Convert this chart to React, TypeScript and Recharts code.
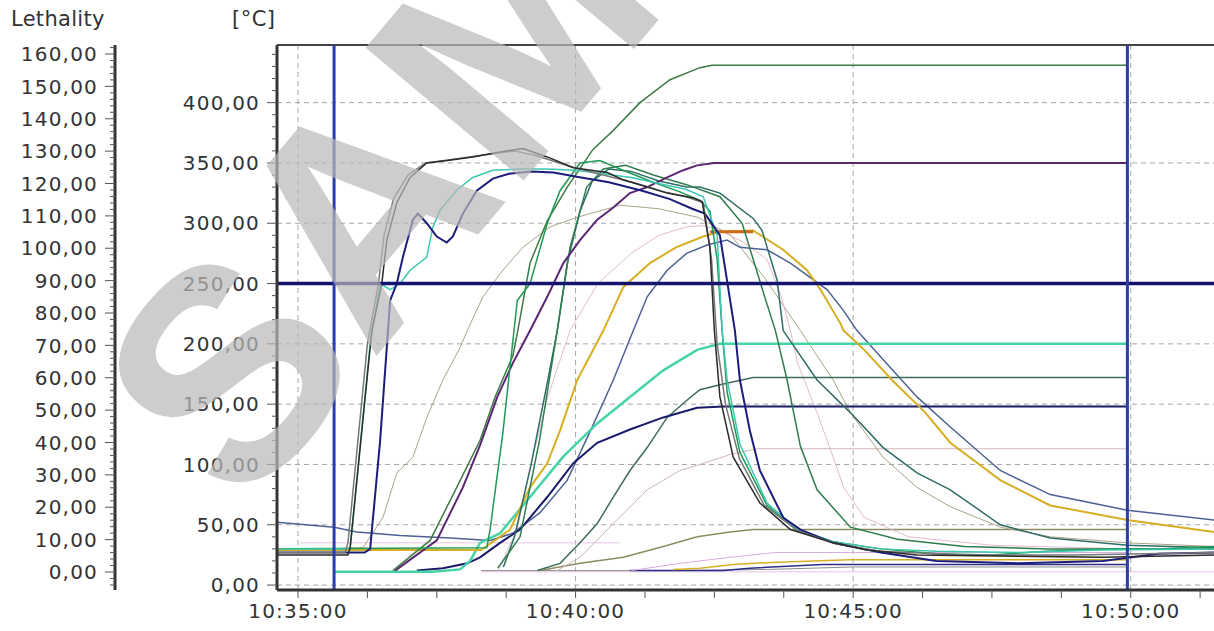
import React from 'react'
import { LineChart, Line, XAxis, YAxis, ReferenceLine } from 'recharts'

// time = minutes after 10:35:00, value = °C
type Pt = [number, number]

const probeBlack: Pt[] = [[-0.38,25],[0.9,25],[0.94,31],[1.33,211],[1.51,250],[1.6,286],[1.78,317],[2.02,338],[2.32,350],[2.69,352],[3.15,355],[3.64,359],[4.05,362],[4.49,355],[4.96,346],[5.57,342],[5.86,336],[6.29,330],[6.65,325],[7.12,321],[7.28,318],[7.42,280],[7.5,211],[7.6,156],[7.84,106],[8.32,68],[8.87,46],[9.64,35],[10.25,29],[11.15,25],[12.6,24],[14.5,23],[16.5,25]]
const probeGray: Pt[] = [[-0.38,27],[0.85,27],[0.9,35],[1.25,200],[1.45,250],[1.55,290],[1.72,320],[1.98,340],[2.3,350],[2.8,353],[3.4,357],[3.9,360],[4.3,356],[4.9,347],[5.5,340],[6.1,333],[6.6,326],[7.0,322],[7.3,317],[7.45,270],[7.55,200],[7.7,150],[7.95,105],[8.4,66],[9.0,45],[9.7,34],[10.5,28],[12,25],[14,25],[16.5,27]]
const probeCyan: Pt[] = [[-0.38,30],[0.85,30],[0.94,31],[1.3,200],[1.48,250],[1.66,245],[1.84,250],[2.02,261],[2.32,272],[2.43,297],[2.56,311],[2.87,328],[3.15,338],[3.51,344],[4.0,345],[4.5,345],[5.0,344],[5.5,341],[6.0,338],[6.5,333],[7.0,328],[7.3,322],[7.55,290],[7.64,211],[7.73,170],[7.96,117],[8.45,68],[8.99,46],[9.64,36],[10.5,30],[11.5,28],[13,27],[14.5,29],[16.5,30]]
const probeNavy: Pt[] = [[-0.38,27],[1.2,27],[1.3,30],[1.48,120],[1.66,236],[1.78,250],[1.89,272],[2.07,303],[2.16,308],[2.32,300],[2.5,289],[2.68,284],[2.79,289],[2.97,308],[3.22,327],[3.51,337],[3.8,341],[4.2,343],[4.6,342],[5.1,338],[5.6,334],[6.2,327],[6.7,320],[7.1,312],[7.33,308],[7.6,290],[7.87,211],[7.96,170],[8.14,128],[8.32,95],[8.74,56],[9.05,46],[9.64,35],[10.5,27],[11.5,20],[13,18],[14.5,20],[15.5,26],[16.5,27]]
const probeGreen: Pt[] = [[-0.38,30],[3.4,31],[3.46,46],[3.69,126],[3.95,236],[4.18,250],[4.49,300],[4.72,327],[5.08,350],[5.44,352],[5.8,345],[6.34,335],[6.88,326],[7.24,319],[7.42,310],[7.55,270],[7.64,211],[7.73,160],[7.96,110],[8.45,66],[8.99,46],[9.64,36],[10.5,30],[11.5,26],[12.5,25],[13.5,28],[14.5,30],[15.5,30],[16.5,32]]
const probeForest: Pt[] = [[3.6,14],[4.0,40],[4.35,120],[4.67,211],[4.9,280],[5.2,330],[5.5,345],[5.9,348],[6.4,340],[7.0,332],[7.6,322],[8.0,300],[8.4,240],[8.6,211],[8.81,170],[9.05,115],[9.35,79],[9.95,48],[10.8,38],[12,32],[13.5,30],[16.5,30]]
const probeTealLate: Pt[] = [[3.7,15],[3.9,40],[4.2,100],[4.5,170],[4.67,211],[4.85,267],[5.08,310],[5.3,335],[5.6,345],[6.0,343],[6.5,335],[7.0,330],[7.24,330],[7.6,325],[8.2,304],[8.36,294],[8.45,280],[8.63,253],[8.74,211],[9.35,170],[9.95,143],[10.54,114],[11.15,93],[11.75,79],[12.65,50],[13.55,39],[14.94,33],[16.5,31]]
const probeYellow: Pt[] = [[-0.38,29],[3.3,29],[3.82,46],[4.18,81],[4.49,101],[4.72,128],[5.03,170],[5.5,211],[5.86,247],[6.34,267],[6.81,280],[7.3,289],[7.6,293],[8.2,294],[8.74,278],[9.17,261],[9.41,245],[9.77,217],[9.83,211],[10.2,195],[10.7,170],[11.3,143],[11.75,118],[12.65,87],[13.55,66],[14.94,54],[16.5,44]]
const holdOrange: Pt[] = [[7.42,293],[8.2,293]]
const probeSlate: Pt[] = [[-0.38,52],[0.65,48],[1.06,44],[1.84,41],[2.74,39],[3.46,37],[3.87,43],[4.36,60],[4.85,87],[5.27,128],[5.68,170],[6.04,211],[6.29,239],[6.65,261],[7.0,275],[7.37,282],[7.73,286],[7.96,280],[8.45,278],[8.87,267],[9.23,255],[9.53,245],[9.82,228],[10.07,211],[10.6,184],[11.15,156],[11.75,131],[12.65,95],[13.55,75],[14.94,62],[16.5,54]]
const probeKhaki: Pt[] = [[0.5,30],[1.17,31],[1.53,56],[1.78,93],[2.07,106],[2.32,139],[2.61,170],[2.92,197],[3.05,211],[3.33,239],[3.69,261],[4.05,280],[4.54,297],[5.03,305],[5.5,311],[5.8,315],[6.5,312],[7.2,305],[7.8,290],[8.4,255],[9.05,211],[9.64,170],[9.95,143],[10.54,106],[11.15,81],[11.75,65],[12.65,48],[13.55,40],[14.94,35],[16.5,32]]
const probePink: Pt[] = [[3.6,12],[3.95,46],[4.2,101],[4.5,156],[4.9,211],[5.4,250],[6.0,275],[6.5,290],[7.0,297],[7.3,298],[7.6,294],[8.0,285],[8.45,270],[8.7,240],[8.87,211],[9.0,184],[9.35,143],[9.64,106],[9.83,81],[10.2,56],[11,40],[12.5,33],[14.94,30],[16.5,30]]
const probeLavender: Pt[] = [[0.04,35],[5.8,35]]
const maxGreen: Pt[] = [[1.71,12],[2.38,37],[2.86,81],[3.28,120],[3.55,156],[3.87,190],[3.96,211],[4.18,267],[4.49,302],[4.85,330],[5.03,342],[5.31,361],[5.68,377],[6.16,400],[6.7,419],[7.24,429],[7.46,431],[14.94,431]]
const maxPurple: Pt[] = [[1.75,12],[2.5,37],[2.97,81],[3.28,116],[3.59,156],[3.87,184],[4.18,211],[4.49,239],[4.78,267],[5.08,286],[5.39,303],[5.68,313],[5.98,325],[6.29,330],[6.65,338],[6.94,344],[7.19,348],[7.5,350],[14.94,350]]
const maxTeal: Pt[] = [[0.65,11],[2.43,11],[2.92,13],[3.1,20],[3.28,35],[3.64,43],[4.18,73],[4.77,106],[5.39,134],[5.98,156],[6.58,178],[7.19,195],[7.6,200],[14.94,200]]
const maxSpruce: Pt[] = [[4.31,12],[4.72,18],[5.08,35],[5.39,51],[5.68,73],[5.98,95],[6.29,114],[6.65,139],[7.0,153],[7.24,162],[7.6,166],[8.2,172],[14.94,172]]
const maxNavy: Pt[] = [[2.14,12],[2.61,14],[3.05,18],[3.28,23],[3.64,35],[4.0,46],[4.49,73],[4.96,101],[5.39,118],[5.98,129],[6.58,139],[7.19,147],[7.66,148],[14.94,148]]
const maxRose: Pt[] = [[4.67,12],[5.08,23],[5.68,51],[6.29,79],[6.88,95],[7.24,100],[7.84,109],[8.27,113],[14.94,113]]
const maxOlive: Pt[] = [[4.36,12],[5.08,18],[5.86,23],[6.58,32],[7.19,40],[7.78,44],[8.2,46],[14.94,46]]
const maxLilac: Pt[] = [[6.0,12],[6.88,18],[7.78,23],[8.6,27],[9.95,27],[14.94,27]]
const maxAmber: Pt[] = [[6.76,13],[7.24,14],[7.84,17],[8.63,19],[9.95,21],[11.75,21],[14.94,21]]
const maxIndigo: Pt[] = [[5.98,12],[7.66,12],[8.14,14],[9.45,17],[11.75,17],[14.94,17]]
const baseGray: Pt[] = [[3.3,12],[7.0,12],[8.5,13],[10,15],[14.94,15]]
const baseLilac: Pt[] = [[3.3,11],[16.5,11]]

const SERIES = [
  { id: 'baseLilac', data: baseLilac, color: '#e3c6e3', width: 1 },
  { id: 'baseGray', data: baseGray, color: '#8c8c8c', width: 1 },
  { id: 'probeLavender', data: probeLavender, color: '#e4c4e4', width: 1 },
  { id: 'maxIndigo', data: maxIndigo, color: '#2c2c86', width: 1.5 },
  { id: 'maxAmber', data: maxAmber, color: '#d8b028', width: 1.5 },
  { id: 'maxLilac', data: maxLilac, color: '#d9aed9', width: 1 },
  { id: 'maxOlive', data: maxOlive, color: '#8c8c62', width: 1.5 },
  { id: 'maxRose', data: maxRose, color: '#cfb6b6', width: 1 },
  { id: 'probeKhaki', data: probeKhaki, color: '#a9a488', width: 1 },
  { id: 'probePink', data: probePink, color: '#e2bccb', width: 1 },
  { id: 'probeSlate', data: probeSlate, color: '#4d6294', width: 1.5 },
  { id: 'maxSpruce', data: maxSpruce, color: '#3d6d5a', width: 1.5 },
  { id: 'maxNavy', data: maxNavy, color: '#1b1b68', width: 2 },
  { id: 'maxTeal', data: maxTeal, color: '#44d4a6', width: 2.5 },
  { id: 'probeYellow', data: probeYellow, color: '#d6ae22', width: 2 },
  { id: 'holdOrange', data: holdOrange, color: '#d06a18', width: 3 },
  { id: 'probeTealLate', data: probeTealLate, color: '#2f6c66', width: 1.5 },
  { id: 'probeForest', data: probeForest, color: '#2f7d4f', width: 1.5 },
  { id: 'maxPurple', data: maxPurple, color: '#5b2672', width: 2 },
  { id: 'maxGreen', data: maxGreen, color: '#3f7a45', width: 1.5 },
  { id: 'probeGreen', data: probeGreen, color: '#1f9a55', width: 1.5 },
  { id: 'probeCyan', data: probeCyan, color: '#3cc8b0', width: 1.5 },
  { id: 'probeNavy', data: probeNavy, color: '#1c1c7a', width: 2 },
  { id: 'probeGray', data: probeGray, color: '#777777', width: 1.5 },
  { id: 'probeBlack', data: probeBlack, color: '#2a2a2a', width: 1.5 },
]

const TIME_MAJOR = [0, 5, 10, 15]
const TIME_LABELS = ['10:35:00', '10:40:00', '10:45:00', '10:50:00']
const TIME_TICKS = Array.from({ length: 14 }, (_, i) => i * 1.25)
const TEMP_GRID = [0, 50, 100, 150, 200, 250, 300, 350, 400]
const TEMP_TICKS = Array.from({ length: 45 }, (_, i) => i * 10)
const LETH_TICKS = Array.from({ length: 84 }, (_, i) => -4 + i * 2)
const TEMP_LIMIT = 250
const CURSOR_TIMES = [0.65, 14.94]

const TEMP_AXIS = 0
const LETH_AXIS = 1

const FONT = '"DejaVu Sans", Verdana, sans-serif'
const TEXT = '#333333'

const fmt = (v: number) => v.toFixed(2).replace('.', ',')
const toRows = (pts: Pt[]) => pts.map(([t, v]) => ({ t, v }))

function LeftTick(props: any, step: number, max: number) {
  const { x, y, payload } = props
  const v = payload.value
  const major = Math.abs(v % step) < 1e-6 && v >= 0 && v <= max
  return (
    <g>
      <line x1={x - (major ? 10 : 5)} x2={x} y1={y} y2={y} stroke="#555" strokeWidth={1} />
      {major && (
        <text x={x - 17} y={y} dy="0.36em" textAnchor="end" fontFamily={FONT} fontSize={20} letterSpacing={1.2} fill={TEXT}>
          {fmt(v)}
        </text>
      )}
    </g>
  )
}

function TimeTick(props: any) {
  const { x, y, payload } = props
  const idx = TIME_MAJOR.indexOf(payload.value)
  return (
    <g>
      <line x1={x} x2={x} y1={y} y2={y + 8} stroke="#555" strokeWidth={1} />
      {idx >= 0 && (
        <text x={x} y={y + 28} textAnchor="middle" fontFamily={FONT} fontSize={20} letterSpacing={1.2} fill={TEXT}>
          {TIME_LABELS[idx]}
        </text>
      )}
    </g>
  )
}

export default function App() {
  return (
    <div style={{ position: 'absolute', left: 0, top: 0, width: 1214, height: 631, background: '#fff', overflow: 'hidden' }}>
      <LineChart width={1214} height={631} margin={{ top: 45, right: 0, bottom: 0, left: 0 }}>
        <XAxis
          dataKey="t"
          type="number"
          domain={[-0.378, 16.5]}
          ticks={TIME_TICKS}
          interval={0}
          height={41}
          tickSize={0}
          tickMargin={0}
          tick={TimeTick}
          axisLine={{ stroke: '#333', strokeWidth: 3 }}
          allowDataOverflow
        />
        <YAxis
          yAxisId={TEMP_AXIS}
          type="number"
          domain={[-4.1, 447.8]}
          ticks={TEMP_TICKS}
          interval={0}
          width={162}
          tickSize={0}
          tickMargin={0}
          tick={(p: any) => LeftTick(p, 50, 400)}
          axisLine={{ stroke: '#333', strokeWidth: 3 }}
          allowDataOverflow
        />
        <YAxis
          yAxisId={LETH_AXIS}
          type="number"
          domain={[-5.56, 162.78]}
          ticks={LETH_TICKS}
          interval={0}
          width={115}
          tickSize={0}
          tickMargin={0}
          tick={(p: any) => LeftTick(p, 10, 160)}
          axisLine={{ stroke: '#333', strokeWidth: 3 }}
          allowDataOverflow
        />

        {/* grid */}
        {TIME_MAJOR.map((t) => (
          <ReferenceLine key={'gx' + t} yAxisId={TEMP_AXIS} x={t} stroke="#a6a6a6" strokeDasharray="5 4" />
        ))}
        {TEMP_GRID.map((v) => (
          <ReferenceLine key={'gy' + v} yAxisId={TEMP_AXIS} y={v} stroke="#a6a6a6" strokeDasharray="5 4" />
        ))}
        <ReferenceLine yAxisId={TEMP_AXIS} y={447.8} stroke="#444" strokeWidth={2} />

        {SERIES.map((s) => (
          <Line
            key={s.id}
            yAxisId={TEMP_AXIS}
            data={toRows(s.data)}
            dataKey="v"
            type="linear"
            stroke={s.color}
            strokeWidth={s.width}
            dot={false}
            activeDot={false}
            isAnimationActive={false}
          />
        ))}

        {/* limit and cursors */}
        <ReferenceLine yAxisId={TEMP_AXIS} y={TEMP_LIMIT} stroke="#14146e" strokeWidth={3.5} />
        {CURSOR_TIMES.map((t) => (
          <ReferenceLine key={'c' + t} yAxisId={TEMP_AXIS} x={t} stroke="#2a3fa6" strokeWidth={3} />
        ))}
      </LineChart>

      <svg width={1214} height={631} style={{ position: 'absolute', left: 0, top: 0, pointerEvents: 'none' }}>
        <text x={11} y={26} fontFamily={FONT} fontSize={21} letterSpacing={0.3} fill={TEXT}>Lethality</text>
        <text x={232} y={26} fontFamily={FONT} fontSize={21} letterSpacing={0.5} fill={TEXT}>[°C]</text>
        <text
          x={243}
          y={515}
          transform="rotate(-50 243 515)"
          fontFamily='"Liberation Sans", Arial, sans-serif'
          fontWeight="bold"
          fontSize={300}
          fill="#b9b9b9"
          opacity={0.7}
        >
          SAMPLE
        </text>
      </svg>
    </div>
  )
}
